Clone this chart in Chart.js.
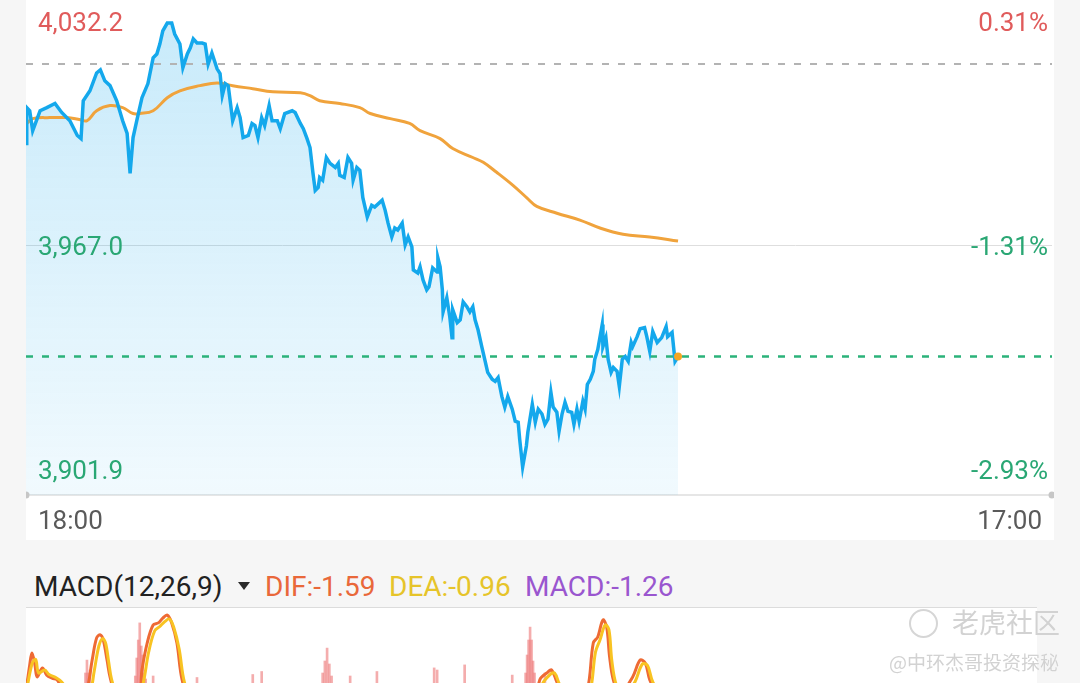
<!DOCTYPE html>
<html>
<head>
<meta charset="utf-8">
<script src="https://cdn.jsdelivr.net/npm/chart.js@4.4.1/dist/chart.umd.min.js"></script>
<style>
  html, body { margin: 0; padding: 0; }
  body { width: 1080px; height: 683px; overflow: hidden; background: #f6f6f6; position: relative; font-family: Roboto, 'Noto Sans', sans-serif; }
  .abs { position: absolute; }
  #mainPanel { left: 26px; top: 0; width: 1028px; height: 540px; background: #fff; }
  #priceChart { position: absolute; left: 0; top: 0; }
  .time { font-size: 26px; line-height: 26px; color: #5a5a5a; top: 507px; }
  #macdHead { top: 573px; font-size: 28px; line-height: 28px; white-space: nowrap; }
  #macdSep { left: 26px; top: 607px; width: 1011px; height: 1px; background: #dcdcdc; }
  #macdBg { left: 26px; top: 608px; width: 1011px; height: 80px; background: #fff; }
  #macdWrap { left: 26px; top: 610px; width: 1028px; height: 180px; }
  .tri { width: 0; height: 0; border-left: 6px solid transparent; border-right: 6px solid transparent; border-top: 8px solid #2a2a2a; top: 582px; left: 238px; }
  .wm { color: #d2d2d2; font-family: 'Noto Sans CJK SC', sans-serif; white-space: nowrap; text-shadow: 0 0 1px #fff; }
</style>
</head>
<body>
<div id="mainPanel" class="abs"><canvas id="priceChart" width="1028" height="540"></canvas></div>
<div class="abs time" id="timeStart" style="left:38px;"></div>
<div class="abs time" id="timeEnd" style="right:38px;"></div>

<div id="macdBg" class="abs"></div>
<div id="macdSep" class="abs"></div>
<div id="macdWrap" class="abs"><canvas id="macdChart" width="1028" height="180"></canvas></div>

<div class="abs" id="macdHead" style="left:34px;color:#222;">MACD(12,26,9)</div>
<div class="abs tri"></div>
<div class="abs" id="difText" style="left:265px;top:573px;font-size:28px;line-height:28px;color:#e9683a;"></div>
<div class="abs" id="deaText" style="left:389px;top:573px;font-size:28px;line-height:28px;color:#e6c42a;"></div>
<div class="abs" id="macdText" style="left:525px;top:573px;font-size:28px;line-height:28px;color:#9a56cf;"></div>

<div class="abs" style="left:909px;top:609px;width:25px;height:25px;border:2px solid #d6d6d6;border-radius:50%;"></div>
<div class="abs wm" style="left:952px;top:608px;font-size:27px;line-height:27px;">老虎社区</div>
<div class="abs wm" style="right:21px;top:652px;font-size:19px;line-height:19px;">@中环杰哥投资探秘</div>

<script>
// price line, minutes since 18:00
const priceMinutes = [
  0,1,5,9,19,28,39,48,59,69,
  74,77,86,95,100,106,113,122,130,136,
  140,144,149,156,164,171,176,180,184,190,
  196,200,207,211,217,221,225,230,237,241,
  245,250,257,261,264,268,272,278,284,288,
  292,299,304,308,312,317,321,327,331,338,
  342,348,358,362,369,373,378,382,386,389,
  393,395,399,404,409,416,420,422,428,433,
  438,440,445,449,453,459,465,469,479,483,
  487,492,496,500,506,510,514,519,521,527,
  530,534,539,542,547,553,554,557,560,561,
  566,570,573,574,580,584,588,593,597,601,
  604,608,613,617,621,627,631,635,640,644,
  648,654,658,662,664,668,673,675,681,685,
  689,694,698,702,706,709,714,717,721,725,
  729,734,737,741,744,749,752,755,759,763,
  765,769,775,776,780,783,787,790,795,798,
  802,806,810,814,816,822,826,832,835,839,
  843,849,855,861,863,869,873,877
]
const priceValues = [
  3996.6,4007.0,4006.1,4000.3,4006.1,4007.0,4008.2,4005.6,4003.2,3998.9,
  3998.0,4009.0,4011.9,4017.1,4018.0,4014.8,4013.4,4009.0,4003.2,3999.5,
  3987.9,3998.3,4003.2,4009.9,4014.0,4021.5,4022.6,4025.5,4029.3,4031.6,
  4031.6,4028.4,4025.5,4018.6,4022.6,4024.4,4027.0,4025.8,4025.8,4025.5,
  4019.7,4022.9,4018.3,4016.9,4010.5,4014.0,4013.4,4003.2,4007.0,4004.1,
  3998.3,3998.9,4002.4,4001.8,3998.3,4004.1,4001.8,4007.6,4003.2,4003.2,
  4000.9,4005.3,4006.1,4005.6,4002.4,4000.9,3998.0,3995.4,3987.9,3982.9,
  3983.8,3986.7,3985.9,3992.5,3990.8,3989.6,3990.8,3987.3,3986.7,3992.5,
  3990.8,3985.9,3989.6,3988.8,3980.9,3975.2,3978.6,3978.1,3980.1,3977.2,
  3973.4,3969.4,3972.0,3971.4,3973.4,3967.1,3969.4,3966.5,3959.8,3958.9,
  3960.7,3956.9,3954.0,3954.9,3960.4,3959.2,3963.3,3960.7,3954.0,3947.6,
  3951.7,3946.2,3940.1,3948.2,3944.5,3945.3,3950.5,3949.1,3947.6,3949.1,
  3945.3,3942.4,3937.5,3933.8,3930.0,3928.0,3927.4,3928.5,3923.0,3919.9,
  3923.0,3919.3,3915.8,3915.5,3910.6,3902.5,3908.6,3912.6,3920.7,3915.5,
  3919.3,3917.9,3914.9,3916.4,3924.2,3919.9,3918.4,3912.9,3917.9,3921.3,
  3918.7,3918.4,3914.9,3919.3,3915.8,3921.6,3919.3,3926.5,3928.0,3930.3,
  3933.8,3936.6,3943.9,3937.5,3940.1,3933.8,3930.0,3931.4,3930.3,3925.9,
  3933.8,3934.6,3933.2,3938.7,3937.5,3940.4,3942.7,3943.0,3940.4,3936.1,
  3941.9,3938.7,3940.1,3943.3,3940.4,3941.6,3933.2,3934.6
]

// average price line
const avgMinutes = [1,9,32,55,73,82,95,113,130,144,153,171,190,207,234,257,278,305,332,369,382,395,422,449,463,490,516,530,557,574,601,615,633,655,674,687,714,745,772,803,839,877]
const avgValues = [
  4002.4,4003.8,4004.1,4004.1,4003.5,4003.2,4006.1,4007.6,4007.0,4005.3,
  4005.3,4006.1,4009.9,4011.9,4013.4,4014.2,4013.4,4012.5,4011.6,4011.3,
  4010.5,4009.0,4008.2,4007.0,4005.3,4003.8,4002.4,4000.3,3998.0,3995.1,
  3992.5,3991.1,3988.2,3984.4,3980.7,3978.3,3976.3,3974.3,3972.0,3970.2,
  3969.4,3968.2
]

const prevClose = 4019.7
const lastPrice = 3934.6
const yTicks = [4032.2, 3967.0, 3901.9]
const timeLabels = ['18:00', '17:00']
const sessionMinutes = 1380
const yMin = 3894.34
const yMax = 4038.31

// MACD panel
const macdLabels = { name: 'MACD(12,26,9)', dif: -1.59, dea: -0.96, macd: -1.26 }
const difMinutes = [0,5,8,12,15,22,28,35,42,48,59,73,82,89,95,100,104,109,113,120,133,151,156,163,171,178,184,190,196,203,210,221,301,395,503,611,678,691,702,707,714,725,745,755,763,769,776,781,785,790,799,816,826,833,839,853,877]
const difValues = [0.3,1.17,1.57,1.17,0.77,1.07,0.83,0.73,0.67,0.4,0.1,-0.1,0.33,1.33,2.07,2.17,2.0,1.33,0.77,0.2,-0.3,0.0,1.0,1.9,2.5,2.57,2.73,2.83,2.57,1.9,0.67,0.0,-1.5,-2.0,-1.8,-2.2,-0.8,0.67,0.93,1.0,0.6,0.0,0.2,0.33,1.9,2.1,2.67,2.43,1.43,0.67,0.2,0.77,1.33,1.23,0.67,0.0,-1.59]
const deaMinutes = [0,8,13,17,25,31,40,48,60,75,85,92,98,103,107,111,115,122,135,150,158,165,173,180,186,193,199,206,213,225,300,400,500,610,680,694,705,711,717,728,748,758,766,772,779,784,788,794,805,819,829,836,843,858,877]
const deaValues = [0.2,1.2,1.35,0.9,1.0,0.85,0.75,0.6,0.2,-0.1,0.1,1.0,1.8,2.05,1.9,1.3,0.7,0.2,-0.2,-0.1,0.6,1.6,2.3,2.45,2.6,2.7,2.4,1.7,0.6,-0.1,-1.4,-1.9,-1.7,-2.0,-0.9,0.5,0.85,0.9,0.55,0.0,0.1,0.2,1.6,2.0,2.5,2.35,1.3,0.5,0.1,0.6,1.2,1.15,0.6,0.0,-0.96]
const histMinutes = [78,80,82,84,86,88,147,149,151,153,155,157,159,161,171,230,305,317,399,402,405,408,411,436,472,549,553,590,654,672,674,676,678,680,682,684,698]
const histValues = [0.5,0.9,1.33,0.9,1.0,0.5,0.8,1.4,2.0,2.57,1.8,1.5,0.9,0.7,0.8,0.75,0.85,0.95,0.9,1.3,1.73,1.2,0.8,0.8,0.95,1.07,1.0,1.17,0.83,0.9,1.5,2.0,2.43,2.0,1.3,0.9,0.9]

const RED = '#e05b5b'
const GREEN = '#2aa774'

Chart.defaults.font.family = 'Roboto'

const toPoints = (xs, ys) => xs.map((x, i) => ({ x, y: ys[i] }))

// mirrored axes should take no room at all
const noRoom = s => {
  s.width = 0
  s.paddingTop = 0
  s.paddingBottom = 0
}

function initLabels() {
  document.getElementById('timeStart').textContent = timeLabels[0]
  document.getElementById('timeEnd').textContent = timeLabels[1]
  document.getElementById('macdHead').textContent = macdLabels.name
  document.getElementById('difText').textContent = `DIF:${macdLabels.dif.toFixed(2)}`
  document.getElementById('deaText').textContent = `DEA:${macdLabels.dea.toFixed(2)}`
  document.getElementById('macdText').textContent = `MACD:${macdLabels.macd.toFixed(2)}`
}

function renderPriceChart() {
  const lastMinute = priceMinutes[priceMinutes.length - 1]
  const flat = v => [{ x: 0, y: v }, { x: sessionMinutes, y: v }]
  const fixTicks = s => { s.ticks = yTicks.map(v => ({ value: v })) }

  new Chart(document.getElementById('priceChart'), {
    type: 'line',
    data: {
      datasets: [
        { data: [{ x: lastMinute, y: lastPrice }], showLine: false, pointRadius: 4, pointBackgroundColor: '#f5a623', pointBorderWidth: 0 },
        {
          data: toPoints(priceMinutes, priceValues),
          borderColor: '#14a8ec',
          borderWidth: 3.5,
          pointRadius: 0,
          tension: 0,
          fill: 'start',
          backgroundColor: ctx => {
            const { ctx: c, chartArea } = ctx.chart
            if (!chartArea) return 'rgba(0,0,0,0)'
            const g = c.createLinearGradient(0, chartArea.top, 0, chartArea.bottom)
            g.addColorStop(0, 'rgba(18,166,235,0.24)')
            g.addColorStop(1, 'rgba(18,166,235,0.06)')
            return g
          }
        },
        { data: toPoints(avgMinutes, avgValues), borderColor: '#f0a33c', borderWidth: 3, pointRadius: 0, tension: 0.4 },
        { data: flat(prevClose), borderColor: '#b3b3b3', borderWidth: 2, borderDash: [7, 9], pointRadius: 0 },
        { data: flat(lastPrice), borderColor: '#2bb27a', borderWidth: 2.5, borderDash: [7, 9], pointRadius: 0 },
        { data: flat(yMin), showLine: false, pointRadius: 3.5, pointBackgroundColor: '#c6c6c6', pointBorderWidth: 0, clip: false }
      ]
    },
    options: {
      responsive: false, animation: false, devicePixelRatio: 1,
      layout: { autoPadding: false, padding: { left: 0, right: 2, top: 0, bottom: 45 } },
      plugins: { legend: { display: false }, tooltip: { enabled: false }, filler: { drawTime: 'beforeDatasetsDraw' } },
      scales: {
        x: {
          type: 'linear', min: 0, max: sessionMinutes,
          grid: { display: false, drawTicks: false },
          ticks: { display: false },
          border: { display: true, color: '#e6e6e6', width: 2 },
          afterFit: s => { s.height = 0; s.paddingLeft = 0; s.paddingRight = 0 }
        },
        y: {
          position: 'left', min: yMin, max: yMax,
          afterBuildTicks: fixTicks,
          afterFit: noRoom,
          border: { display: false },
          grid: { drawTicks: false, lineWidth: 1, color: c => (c.tick && c.tick.value === yTicks[1]) ? '#dedede' : 'rgba(0,0,0,0)' },
          ticks: {
            z: 1, mirror: true, padding: 12, labelOffset: 3, font: { size: 26 },
            color: c => c.tick.value > prevClose ? RED : GREEN,
            callback: v => v.toLocaleString('en-US', { minimumFractionDigits: 1, maximumFractionDigits: 1 })
          }
        },
        yPct: {
          position: 'right', min: yMin, max: yMax,
          afterBuildTicks: fixTicks,
          afterFit: noRoom,
          border: { display: false },
          grid: { display: false, drawTicks: false },
          ticks: {
            z: 1, mirror: true, padding: -4, labelOffset: 3, font: { size: 26 },
            color: c => c.tick.value > prevClose ? RED : GREEN,
            callback: v => ((v / prevClose - 1) * 100).toFixed(2) + '%'
          }
        }
      }
    }
  })
}

function renderMacdChart() {
  new Chart(document.getElementById('macdChart'), {
    type: 'line',
    data: {
      datasets: [
        { data: toPoints(deaMinutes, deaValues), borderColor: '#f8c322', borderWidth: 3, pointRadius: 0, tension: 0.35 },
        { data: toPoints(difMinutes, difValues), borderColor: '#ee6a34', borderWidth: 3, pointRadius: 0, tension: 0.35 },
        { type: 'bar', data: toPoints(histMinutes, histValues), backgroundColor: 'rgba(236,118,118,0.6)', barThickness: 2 }
      ]
    },
    options: {
      responsive: false, animation: false, devicePixelRatio: 1,
      layout: { autoPadding: false, padding: { left: 0, right: 2, top: 0, bottom: 0 } },
      plugins: { legend: { display: false }, tooltip: { enabled: false } },
      scales: {
        x: { type: 'linear', min: 0, max: sessionMinutes, display: false, offset: false },
        y: { min: -3, max: 3, display: false }
      }
    }
  })
}

initLabels()
renderPriceChart()
renderMacdChart()
</script>
</body>
</html>
